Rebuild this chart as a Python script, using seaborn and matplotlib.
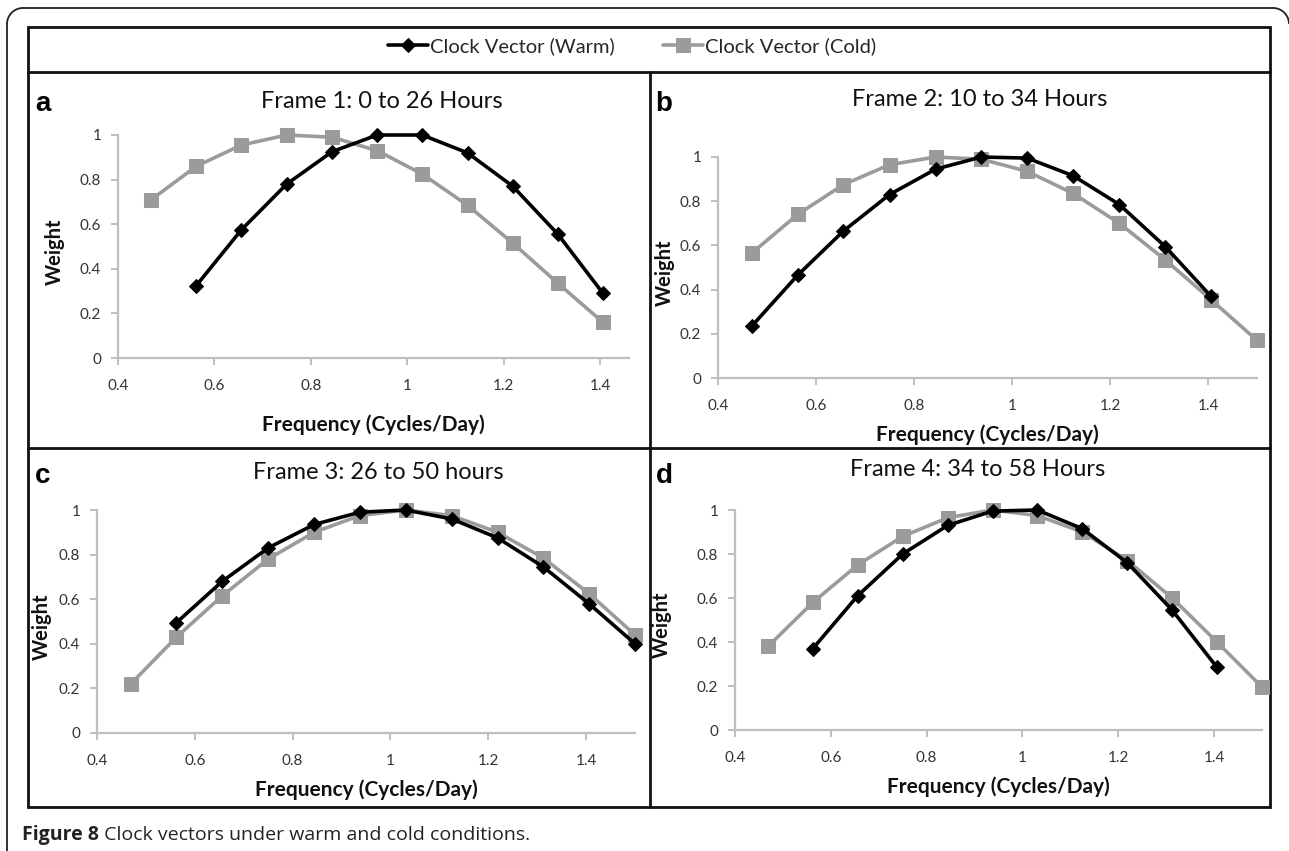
import numpy as np
import pandas as pd
import matplotlib
matplotlib.use("Agg")
import matplotlib.pyplot as plt
import seaborn as sns
from matplotlib.patches import Rectangle, Arc

sns.set_theme(style="white")
plt.rcParams['font.family'] = ['Lato', 'DejaVu Sans']

# ---------------- data ----------------
freq = [0.469, 0.5625, 0.656, 0.75, 0.844, 0.9375, 1.031, 1.125, 1.219, 1.3125, 1.406, 1.5]
nan = np.nan

warm_a = [nan, 0.325, 0.575, 0.78, 0.925, 1.0, 1.0, 0.92, 0.77, 0.555, 0.29, nan]
cold_a = [0.71, 0.86, 0.955, 1.0, 0.99, 0.93, 0.825, 0.685, 0.515, 0.335, 0.16, nan]

warm_b = [0.235, 0.465, 0.665, 0.83, 0.945, 1.0, 0.995, 0.915, 0.785, 0.595, 0.37, nan]
cold_b = [0.565, 0.74, 0.875, 0.965, 1.0, 0.99, 0.935, 0.835, 0.70, 0.535, 0.355, 0.17]

warm_c = [nan, 0.495, 0.68, 0.83, 0.935, 0.99, 1.0, 0.96, 0.875, 0.745, 0.58, 0.40]
cold_c = [0.22, 0.43, 0.615, 0.78, 0.90, 0.975, 1.0, 0.975, 0.90, 0.785, 0.625, 0.44]

warm_d = [nan, 0.37, 0.61, 0.80, 0.93, 0.995, 1.0, 0.915, 0.76, 0.545, 0.285, nan]
cold_d = [0.38, 0.58, 0.75, 0.88, 0.965, 1.0, 0.975, 0.90, 0.77, 0.60, 0.40, 0.195]

titles = ["Frame 1: 0 to 26 Hours", "Frame 2: 10 to 34 Hours",
          "Frame 3: 26 to 50 hours", "Frame 4: 34 to 58 Hours"]
letters = ["a", "b", "c", "d"]
series_names = ["Clock Vector (Warm)", "Clock Vector (Cold)"]
xticks = [0.4, 0.6, 0.8, 1.0, 1.2, 1.4]
xticklabels = ["0.4", "0.6", "0.8", "1", "1.2", "1.4"]
yticks = [0, 0.2, 0.4, 0.6, 0.8, 1.0]
yticklabels = ["0", "0.2", "0.4", "0.6", "0.8", "1"]
xlabel = "Frequency (Cycles/Day)"
ylabel = "Weight"
caption_bold = "Figure 8"
caption_rest = " Clock vectors under warm and cold conditions."

warm = [warm_a, warm_b, warm_c, warm_d]
cold = [cold_a, cold_b, cold_c, cold_d]

W, H = 1289, 851
fig = plt.figure(figsize=(W / 100, H / 100), dpi=100)
fig.patch.set_facecolor("white")

def fx(px):
    return px / W

def fy(py):
    return 1 - py / H

# overlay axes in pixel coordinates (y upward) for frames
ov = fig.add_axes([0, 0, 1, 1], zorder=-1)
ov.set_xlim(0, W)
ov.set_ylim(0, H)
ov.axis("off")

def Y(py):
    return H - py

R = 16
OC = "#222222"
# outer rounded frame: left side, top side, two top corners (right side lies at the image edge)
ov.plot([7, 7], [Y(H + 5), Y(8 + R)], color=OC, linewidth=1.3)
ov.plot([7 + R, 1289 - R], [Y(8), Y(8)], color=OC, linewidth=1.3)
ov.add_patch(Arc((7 + R, Y(8 + R)), 2 * R, 2 * R, theta1=90, theta2=180,
                 color=OC, linewidth=1.3))
ov.add_patch(Arc((1289 - R, Y(8 + R)), 2 * R, 2 * R, theta1=0, theta2=90,
                 color=OC, linewidth=1.3))

ov.add_patch(Rectangle((28, Y(807)), 1270 - 28, 807 - 27, fill=False,
                       edgecolor="#111111", linewidth=2.0))
ov.plot([28, 1270], [Y(72), Y(72)], color="#111111", linewidth=2.0)
ov.plot([28, 1270], [Y(448), Y(448)], color="#111111", linewidth=2.0)
ov.plot([650, 650], [Y(72), Y(807)], color="#111111", linewidth=2.0)

# ---------------- panels ----------------
# (left_px, right_px, top_px, bottom_px, xmax)
boxes = [
    (118, 629, 135, 358, 1.46),
    (718, 1257, 157, 378, 1.5),
    (97, 635, 510, 733, 1.5),
    (735, 1262, 510, 730, 1.5),
]
title_pos = [(382, 102), (980, 100), (378, 472), (978, 470)]
letter_pos = [(43, 104), (664, 104), (43, 476), (664, 476)]
xlabel_y = [425, 435, 790, 787]
ylabel_x = [55, 665, 42, 662]

WARM_C = "#000000"
COLD_C = "#9B9B9B"
AXIS_C = "#BFBFBF"

handles = None
for i in range(4):
    l, r, t, b, xmax = boxes[i]
    ax = fig.add_axes([fx(l), fy(b), fx(r) - fx(l), fy(t) - fy(b)])
    ax.set_facecolor("none")
    dfw = pd.DataFrame({"freq": freq, "w": warm[i]}).dropna()
    dfc = pd.DataFrame({"freq": freq, "w": cold[i]}).dropna()
    sns.lineplot(data=dfc, x="freq", y="w", ax=ax, color=COLD_C, linewidth=2.6,
                 marker="s", markersize=10.5, markeredgecolor=COLD_C,
                 markerfacecolor=COLD_C, clip_on=False, zorder=3,
                 label=series_names[1], legend=False)
    sns.lineplot(data=dfw, x="freq", y="w", ax=ax, color=WARM_C, linewidth=2.6,
                 marker="D", markersize=7.5, markeredgecolor=WARM_C,
                 markerfacecolor=WARM_C, clip_on=False, zorder=4,
                 label=series_names[0], legend=False)
    ax.set_xlim(0.4, xmax)
    ax.set_ylim(0, 1)
    ax.set_xticks(xticks)
    ax.set_xticklabels(xticklabels)
    ax.set_yticks(yticks)
    ax.set_yticklabels(yticklabels)
    for s in ["top", "right"]:
        ax.spines[s].set_visible(False)
    for s in ["left", "bottom"]:
        ax.spines[s].set_color(AXIS_C)
        ax.spines[s].set_linewidth(1.6)
    ax.tick_params(axis="both", which="major", direction="out", length=5, width=1.4,
                   color=AXIS_C, labelcolor="#333333", labelsize=11, pad=10,
                   bottom=True, left=True)
    ax.tick_params(axis="y", pad=7)
    ax.set_xlabel("")
    ax.set_ylabel("")
    ax.grid(False)
    fig.text(fx((l + r) / 2), fy(xlabel_y[i]), xlabel, ha="center", va="center",
             fontsize=15, fontweight="bold", color="#111111")
    fig.text(fx(ylabel_x[i]), fy((t + b) / 2 + 5), ylabel, ha="center", va="center",
             rotation=90, fontsize=14.5, fontweight="bold", color="#111111")
    fig.text(fx(title_pos[i][0]), fy(title_pos[i][1]), titles[i], ha="center",
             va="center", fontsize=17, color="#111111")
    fig.text(fx(letter_pos[i][0]), fy(letter_pos[i][1]), letters[i], ha="center",
             va="center", fontsize=20, fontweight="bold", color="#000000",
             family=["Liberation Sans", "DejaVu Sans"])
    if handles is None:
        handles = ax.get_legend_handles_labels()

# legend (warm first)
h, lab = handles
order = [lab.index(series_names[0]), lab.index(series_names[1])]
fig.legend([h[k] for k in order], [lab[k] for k in order], loc="center",
           bbox_to_anchor=(fx(632), fy(46)), ncol=2, frameon=False,
           fontsize=14.5, handlelength=2.0, handletextpad=0.1, columnspacing=2.4,
           numpoints=1)

# caption
t1 = fig.text(fx(22), fy(835), caption_bold, ha="left", va="center", fontsize=14,
              fontweight="bold", color="#222222", family=["Open Sans", "DejaVu Sans"])
fig.canvas.draw()
bb = t1.get_window_extent()
fig.text(bb.x1 / W, fy(835), caption_rest, ha="left", va="center", fontsize=14,
         color="#222222", family=["Open Sans", "DejaVu Sans"])

fig.savefig("out.png", dpi=100, facecolor="white")
